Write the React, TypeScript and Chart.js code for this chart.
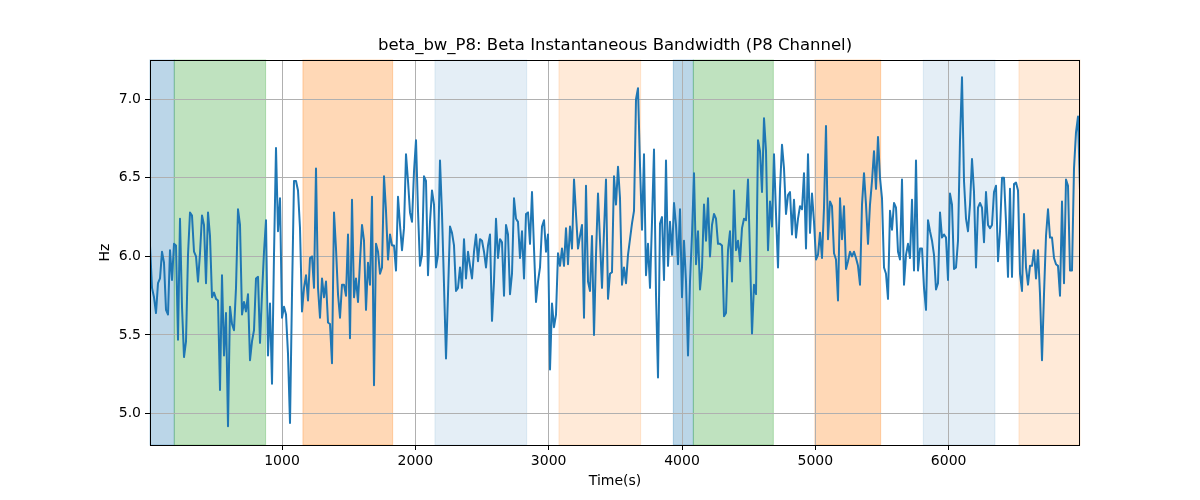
import React, { useEffect, useRef } from 'react';
import { Chart, registerables, Plugin } from 'chart.js';

Chart.register(...registerables);

// sampling of the time axis (seconds)
const T0 = 10;
const DT = 15;

// beta bandwidth (Hz) in chunks
const bw0 = [6.07, 5.80, 5.74, 5.64, 5.83, 5.86, 6.03, 5.96, 5.66, 5.63, 6.04, 5.85, 6.08, 6.07,
  5.47, 6.24, 5.68, 5.36, 5.46, 6.01, 6.28, 6.26, 6.03, 6.00, 5.84, 6.02, 6.26, 6.20, 5.83, 6.28,
  6.13, 5.74, 5.77, 5.73, 5.72, 5.15, 5.88, 5.37, 5.64, 4.92, 5.68, 5.57, 5.53, 5.80, 6.30, 6.20,
  5.63, 5.71, 5.65, 5.76, 5.34, 5.46, 5.53, 5.86, 5.87, 5.45, 5.76, 6.03, 6.23, 5.37, 5.70, 5.19,
  6.01, 6.69, 6.16, 6.37, 5.61, 5.68, 5.63, 5.38, 4.94, 5.76, 6.48, 6.48, 6.42, 6.18, 5.65, 5.80,
  5.88, 5.72, 5.99];
const bw1 = [6.00, 5.80, 6.56, 5.80, 5.61, 5.86, 5.74, 5.84, 5.58, 5.57, 5.32, 6.28, 6.05, 5.76,
  5.61, 5.82, 5.82, 5.75, 6.14, 5.48, 6.36, 5.74, 5.86, 5.71, 5.97, 6.20, 6.10, 5.66, 5.96, 5.82,
  6.38, 5.18, 6.08, 6.03, 5.89, 5.93, 6.51, 6.29, 5.98, 6.14, 6.07, 6.07, 5.91, 6.38, 6.20, 6.04,
  6.18, 6.65, 6.48, 6.28, 6.22, 6.54, 6.74, 6.29, 5.94, 6.01, 6.51, 6.48, 5.88, 6.22, 6.42, 6.33,
  5.93, 6.01, 6.61, 6.27, 5.82, 5.35, 5.76, 6.19, 6.15, 6.07, 5.78, 5.80, 5.93, 5.80, 6.11];
const bw2 = [5.86, 6.03, 5.94, 5.86, 6.03, 6.14, 5.97, 6.11, 6.10, 6.03, 5.93, 6.07, 6.14, 5.59,
  5.84, 6.24, 5.99, 6.11, 6.09, 5.75, 6.20, 6.14, 5.76, 5.89, 6.37, 6.24, 6.22, 5.99, 6.16, 5.86,
  6.27, 6.28, 6.08, 6.41, 6.05, 5.71, 5.84, 5.93, 6.19, 6.23, 6.03, 6.14, 5.28, 5.70, 5.55, 5.63,
  6.02, 5.94, 6.05, 5.94, 6.18, 5.95, 6.19, 6.05, 6.49, 6.27, 6.05, 6.13, 6.20, 5.61, 6.45, 5.84,
  5.78, 6.13, 5.50, 6.01, 6.40, 6.10, 5.80, 6.16, 6.49, 5.73, 5.89, 5.90, 6.51, 6.33, 6.57, 6.37];
const bw3 = [5.82, 5.93, 5.83, 6.01, 6.11, 6.21, 6.29, 7.00, 7.07, 6.58, 6.17, 6.65, 5.88, 6.08,
  5.80, 6.22, 6.68, 5.76, 5.23, 6.21, 6.25, 5.85, 6.61, 5.94, 6.22, 6.01, 6.34, 6.20, 5.95, 6.30,
  5.74, 6.10, 5.84, 5.37, 5.84, 6.14, 6.53, 5.95, 6.16, 5.79, 5.93, 6.33, 6.10, 6.37, 6.00, 6.20,
  6.27, 6.24, 6.08, 6.08, 6.07, 5.62, 5.64, 6.04, 6.16, 5.84, 6.42, 6.04, 6.10, 5.97, 6.18, 6.24,
  6.23, 6.49, 6.01, 5.51, 5.82, 5.76, 6.74, 6.67, 6.41, 6.88, 6.67, 6.04, 6.35, 6.19, 6.65];
const bw4 = [6.27, 5.93, 6.43, 6.71, 6.56, 6.27, 6.39, 6.41, 6.14, 6.36, 6.12, 6.24, 6.32, 6.30,
  6.53, 6.05, 6.65, 6.15, 6.40, 6.22, 5.98, 6.01, 6.15, 5.99, 6.31, 6.83, 6.11, 6.35, 6.32, 6.02,
  5.98, 5.72, 6.37, 6.11, 6.32, 5.92, 5.97, 6.03, 6.00, 6.03, 5.99, 5.94, 5.82, 6.33, 6.53, 6.33,
  6.08, 6.33, 6.48, 6.67, 6.43, 6.76, 6.50, 6.37, 5.93, 5.89, 5.73, 6.29, 6.17, 6.34, 6.31, 6.03,
  5.98, 6.49, 5.82, 6.01, 6.08, 5.99, 6.36, 5.91, 6.61, 5.91, 6.05, 6.05, 5.80, 5.66, 6.23, 6.16];
const bw5 = [6.10, 6.01, 5.79, 5.83, 6.28, 6.12, 6.14, 6.12, 5.85, 6.40, 6.33, 5.92, 5.93, 6.10,
  6.74, 7.14, 6.48, 6.24, 6.16, 6.33, 6.62, 6.41, 5.93, 6.31, 6.34, 6.31, 6.09, 6.41, 6.20, 6.18,
  6.20, 6.41, 6.45, 5.97, 6.16, 6.50, 6.50, 6.22, 5.87, 6.43, 5.87, 6.46, 6.47, 6.42, 5.89, 5.78,
  6.27, 5.93, 5.82, 5.94, 5.94, 6.04, 5.86, 6.04, 5.76, 5.34, 5.76, 6.13, 6.30, 6.12, 6.12, 5.99,
  5.95, 5.94, 5.75, 6.35, 5.83, 6.49, 6.45, 5.91, 5.91, 6.56, 6.79, 6.89, 6.42];
const bandwidth = [...bw0, ...bw1, ...bw2, ...bw3, ...bw4, ...bw5];

// shaded state intervals
const spanStarts = [10, 192, 1157, 2147, 3077, 3935, 4085, 4997, 5810, 6527];
const spanEnds = [192, 877, 1830, 2835, 3690, 4085, 4685, 5490, 6347, 6985];
const spanColors = [
  'rgba(31,119,180,0.3)', 'rgba(44,160,44,0.3)', 'rgba(255,127,14,0.3)', 'rgba(31,119,180,0.12)',
  'rgba(255,127,14,0.16)', 'rgba(31,119,180,0.3)', 'rgba(44,160,44,0.3)', 'rgba(255,127,14,0.3)',
  'rgba(31,119,180,0.12)', 'rgba(255,127,14,0.16)',
];

const xTicks = [1000, 2000, 3000, 4000, 5000, 6000];
const yTicks = [5.0, 5.5, 6.0, 6.5, 7.0];
const TITLE = 'beta_bw_P8: Beta Instantaneous Bandwidth (P8 Channel)';
const FONT = 'DejaVu Sans';

const spansPlugin: Plugin<'line'> = {
  id: 'spans',
  beforeDraw(chart) {
    const { ctx, chartArea } = chart;
    const xs = chart.scales.x;
    ctx.save();
    spanStarts.forEach((s, i) => {
      const x0 = xs.getPixelForValue(s);
      const x1 = xs.getPixelForValue(spanEnds[i]);
      ctx.fillStyle = spanColors[i];
      ctx.fillRect(x0, chartArea.top, x1 - x0, chartArea.bottom - chartArea.top);
      ctx.strokeStyle = spanColors[i];
      ctx.lineWidth = 1;
      ctx.strokeRect(x0, chartArea.top, x1 - x0, chartArea.bottom - chartArea.top);
    });
    ctx.restore();
  },
  afterDraw(chart) {
    const { ctx, chartArea } = chart;
    ctx.save();
    ctx.strokeStyle = '#000';
    ctx.lineWidth = 1;
    ctx.strokeRect(chartArea.left + 0.5, chartArea.top + 0.5,
      chartArea.right - chartArea.left - 1, chartArea.bottom - chartArea.top);
    ctx.fillStyle = '#000';
    ctx.font = `16.5px "${FONT}"`;
    ctx.textAlign = 'center';
    ctx.textBaseline = 'middle';
    ctx.fillText(TITLE, (chartArea.left + chartArea.right) / 2, 46);
    ctx.restore();
  },
};

const App: React.FC = () => {
  const canvasRef = useRef<HTMLCanvasElement>(null);

  useEffect(() => {
    document.body.style.margin = '0';
    if (!canvasRef.current) return;
    const points = bandwidth.map((v, i) => ({ x: T0 + i * DT, y: v }));

    const chart = new Chart(canvasRef.current, {
      type: 'line',
      data: {
        datasets: [{
          data: points,
          borderColor: '#1f77b4',
          borderWidth: 2,
          pointRadius: 0,
          tension: 0,
          borderJoinStyle: 'round',
        }],
      },
      options: {
        animation: false,
        responsive: false,
        devicePixelRatio: 1,
        layout: { padding: { top: 60, right: 120, bottom: 0, left: 0 } },
        plugins: { legend: { display: false }, tooltip: { enabled: false }, title: { display: false } },
        scales: {
          x: {
            type: 'linear',
            min: 10,
            max: 6985,
            bounds: 'data',
            afterBuildTicks: (s) => { s.ticks = xTicks.map(v => ({ value: v })); },
            afterFit: (s) => { s.height = 55; },
            ticks: { color: '#000', font: { family: FONT, size: 14 }, padding: 3, maxRotation: 0, callback: (v) => String(v) },
            grid: { color: '#b0b0b0', lineWidth: 1, tickColor: '#000', tickLength: 5 },
            border: { display: false },
            title: { display: true, text: 'Time(s)', color: '#000', font: { family: FONT, size: 14 }, padding: { top: 0, bottom: 10.5 } },
          },
          y: {
            type: 'linear',
            min: 4.8,
            max: 7.25,
            bounds: 'data',
            afterBuildTicks: (s) => { s.ticks = yTicks.map(v => ({ value: v })); },
            afterFit: (s) => { s.width = 150; },
            ticks: { color: '#000', font: { family: FONT, size: 14 }, padding: 4, callback: (v) => Number(v).toFixed(1) },
            grid: { color: '#b0b0b0', lineWidth: 1, tickColor: '#000', tickLength: 5 },
            border: { display: false },
            title: { display: true, text: 'Hz', color: '#000', font: { family: FONT, size: 14 }, padding: { top: 96.5, bottom: 0 } },
          },
        },
      },
      plugins: [spansPlugin],
    });

    return () => chart.destroy();
  }, []);

  return (
    <div style={{ width: 1200, height: 500 }}>
      <canvas ref={canvasRef} width={1200} height={500}></canvas>
    </div>
  );
};

export default App;
